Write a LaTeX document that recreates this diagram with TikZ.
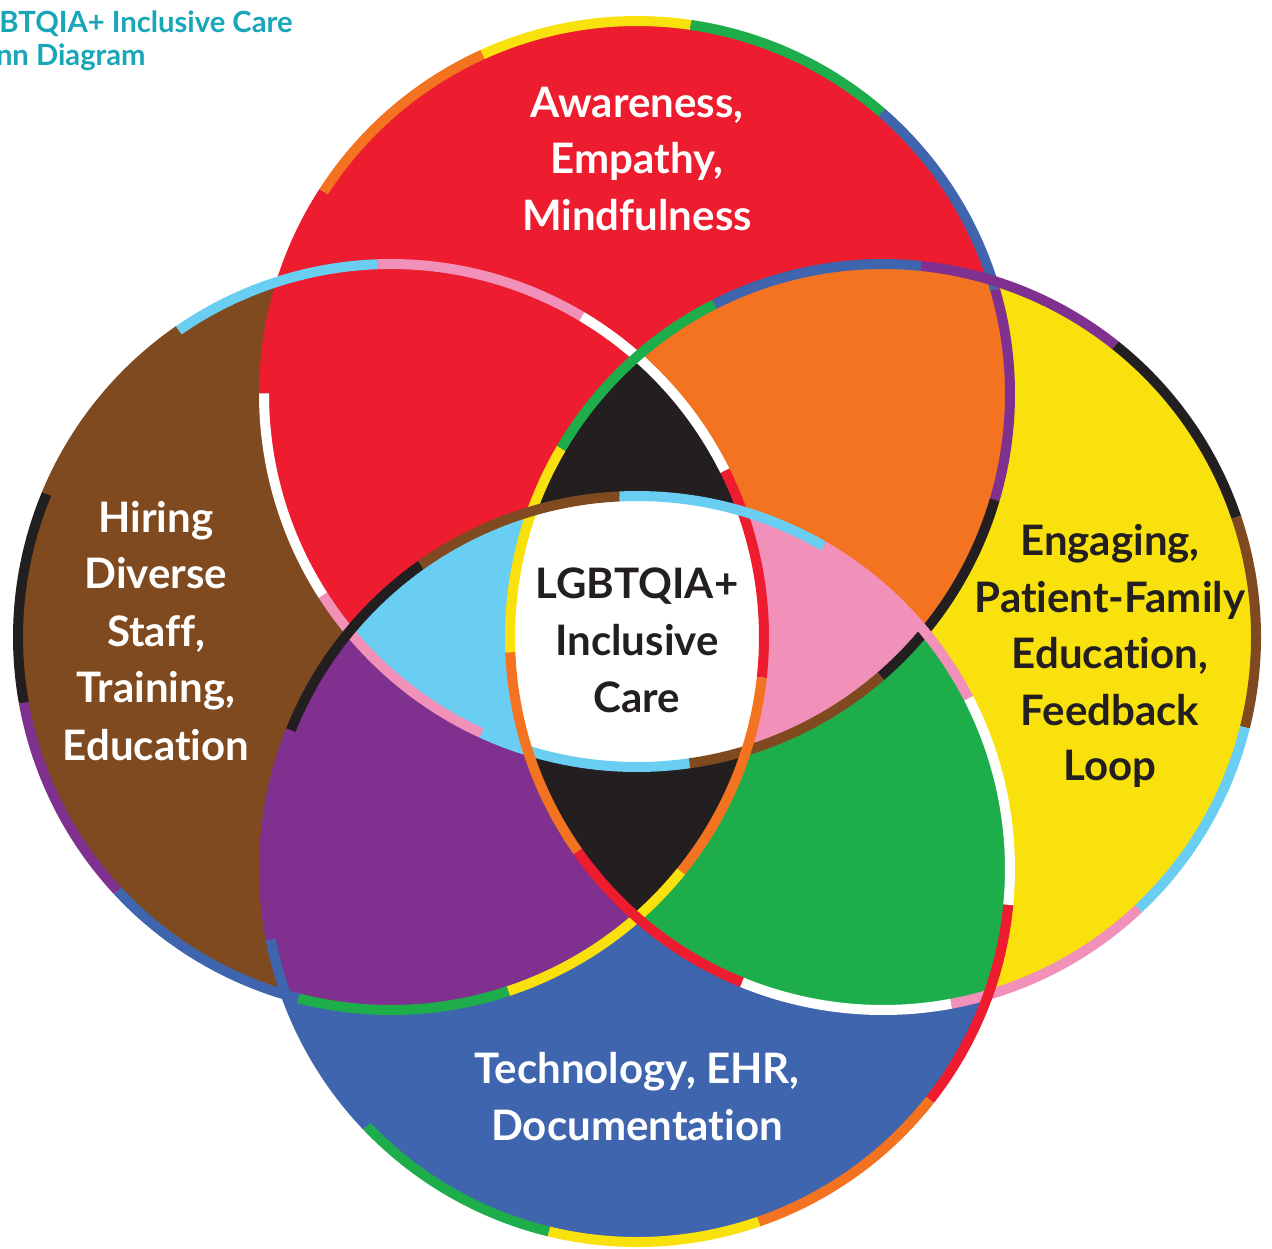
\documentclass[tikz,border=0pt]{standalone}
\usepackage{fontspec}
\setmainfont{Lato}[Ligatures={NoCommon}]
\definecolor{cRed}{HTML}{ED1C2E}
\definecolor{cOrange}{HTML}{F37321}
\definecolor{cYellow}{HTML}{F8E10C}
\definecolor{cGreen}{HTML}{1DAE4B}
\definecolor{cBlue}{HTML}{3F65AF}
\definecolor{cPurple}{HTML}{80318F}
\definecolor{cBlack}{HTML}{231F20}
\definecolor{cBrown}{HTML}{7F4A1F}
\definecolor{cLBlue}{HTML}{6ACEF2}
\definecolor{cPink}{HTML}{F190B8}
\definecolor{cTeal}{HTML}{19A6B8}
\def\circR{373}
\newcommand{\ringSegs}[2]{%
  \foreach \segcol [count=\segi from 0] in {cRed,cOrange,cYellow,cGreen,cBlue,cPurple,cBlack,cBrown,cLBlue,cPink,white}{%
    \pgfmathsetmacro{\angA}{#2+\segi*360/11}%
    \pgfmathsetmacro{\angB}{\angA+360/11}%
    \draw[ring, draw=\segcol] (#1) ++(\angA:\circR) arc[start angle=\angA, end angle=\angB, radius=\circR];%
  }}
\begin{document}
\begin{tikzpicture}[x=0.5pt,y=-0.5pt,
  ring/.style={line width=5pt},
  lab/.style={font=\bfseries\fontsize{21}{25}\selectfont, anchor=base, inner sep=0pt},
  ttl/.style={font=\bfseries\fontsize{14.6}{17}\selectfont, text=cTeal, inner sep=0pt}]
\useasboundingbox (0,0) rectangle (1272,1248);
\clip (0,0) rectangle (1272,1248);
\fill[white] (0,0) rectangle (1272,1248);
\coordinate (T) at (637,394);
\coordinate (L) at (391,637);
\coordinate (R) at (883,637);
\coordinate (B) at (637,869);
% base fills
\fill[cBrown] (L) circle[radius=\circR];
\fill[cYellow] (R) circle[radius=\circR];
\fill[cRed] (T) circle[radius=\circR];
\fill[cBlue] (B) circle[radius=\circR];
\begin{scope}
  \clip (T) circle[radius=\circR];
  \fill[cOrange] (R) circle[radius=\circR];
\end{scope}
\begin{scope}
  \clip (B) circle[radius=\circR];
  \fill[cPurple] (L) circle[radius=\circR];
  \fill[cGreen] (R) circle[radius=\circR];
\end{scope}
\begin{scope}
  \clip (L) circle[radius=\circR];
  \fill[cBlack] (R) circle[radius=\circR];
\end{scope}
\begin{scope}
  \clip (T) circle[radius=\circR];
  \clip (B) circle[radius=\circR];
  \fill[cLBlue] (L) circle[radius=\circR];
  \fill[cPink] (R) circle[radius=\circR];
  \begin{scope}
    \clip (L) circle[radius=\circR];
    \fill[white] (R) circle[radius=\circR];
  \end{scope}
\end{scope}
% segmented outlines
\ringSegs{T}{180.1}
\ringSegs{L}{333.5}
\ringSegs{R}{112.2}
\ringSegs{B}{5.5}
% labels
\node[lab, text=white] (aw1) at (637,117) {Awareness,};
\node[lab, text=white] (aw2) at (637,173) {Empathy,};
\node[lab, text=white] (aw3) at (637,230) {Mindfulness};
\node[lab, text=white] (hi1) at (156,532) {Hiring};
\node[lab, text=white] (hi2) at (156,588) {Diverse};
\node[lab, text=white] (hi3) at (156,646) {Staff,};
\node[lab, text=white] (hi4) at (156,702) {Training,};
\node[lab, text=white] (hi5) at (156,760) {Education};
\node[lab, text=cBlack] (en1) at (1110,555) {Engaging,};
\node[lab, text=cBlack] (en2) at (1110,612) {Patient-Family};
\node[lab, text=cBlack] (en3) at (1110,668) {Education,};
\node[lab, text=cBlack] (en4) at (1110,725) {Feedback};
\node[lab, text=cBlack] (en5) at (1110,780) {Loop};
\node[lab, text=cBlack] (c1) at (637,598) {LGBTQIA+};
\node[lab, text=cBlack] (c2) at (637,655) {Inclusive};
\node[lab, text=cBlack] (c3) at (637,712) {Care};
\node[lab, text=white] (te1) at (637,1083) {Technology, EHR,};
\node[lab, text=white] (te2) at (637,1140) {Documentation};
% title (cut off at the left edge, as in the reference)
\node[ttl, anchor=base east] (title1) at (293,32) {LGBTQIA+ Inclusive Care};
\node[ttl, anchor=base east] (title2) at (146,65) {Venn Diagram};
\end{tikzpicture}
\end{document}
